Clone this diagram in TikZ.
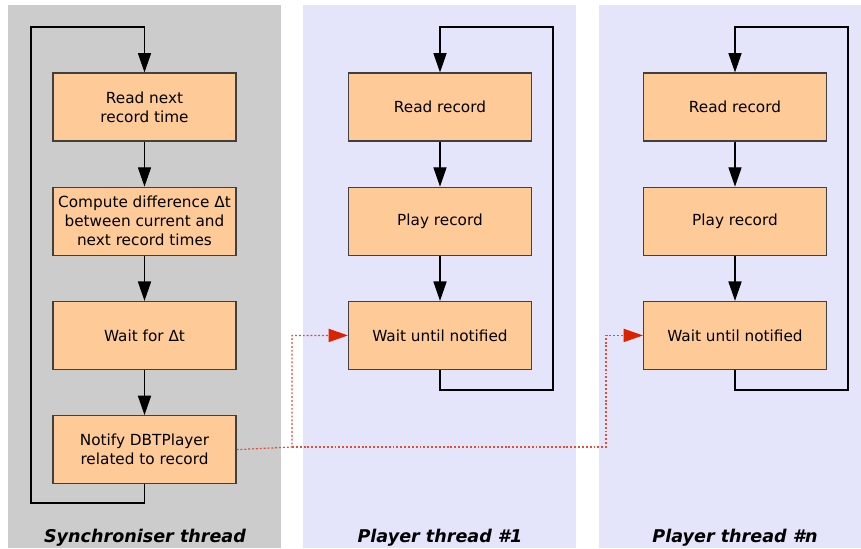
\documentclass[tikz,border=0pt]{standalone}
\usepackage{fontspec}
\setmainfont{DejaVu Sans}
\usetikzlibrary{positioning,arrows.meta}

\definecolor{syncgrey}{HTML}{CCCCCC}
\definecolor{playerblue}{HTML}{E4E4FB}
\definecolor{stepfill}{HTML}{FECA98}
\definecolor{notifyred}{HTML}{DD2200}

\begin{document}
\begin{tikzpicture}[x=0.02cm,y=-0.02cm,
    stepbox/.style={draw=black!75,line width=0.7pt,fill=stepfill,
      minimum width=3.66cm,minimum height=1.36cm,align=center,
      font=\fontsize{8.7}{10.8}\selectfont,inner sep=1pt},
    flow/.style={line width=0.6pt,-{Triangle[length=11pt,width=7.5pt]}},
    notify/.style={notifyred!80!white,line width=0.7pt,dash pattern=on 1.1pt off 1.1pt,
      -{Triangle[length=11pt,width=7.5pt,color=notifyred,fill=notifyred]}},
    threadname/.style={font=\fontsize{10}{12}\selectfont\bfseries\itshape},
    node distance=0.9cm]
    \useasboundingbox (0,0) rectangle (861,548);

    % thread panels
    \fill[syncgrey] (8,5) rectangle (281,548);
    \fill[playerblue] (303,5) rectangle (576,548);
    \fill[playerblue] (599,5) rectangle (861,548);

    % synchroniser thread
    \node[stepbox] (readtime) at (144.5,107) {Read next\\record time};
    \node[stepbox,below=of readtime] (diff) {Compute difference Δt\\between current and\\next record times};
    \node[stepbox,below=of diff] (wait) {Wait for Δt};
    \node[stepbox,below=of wait] (notifyp) {Notify DBTPlayer\\related to record};
    \coordinate (syncbot) at (31,503);
    \coordinate (synctop) at (31,27);

    \draw[flow] (readtime) -- (diff);
    \draw[flow] (diff) -- (wait);
    \draw[flow] (wait) -- (notifyp);
    \draw[flow] (notifyp.south) |- (syncbot) -- (synctop) -| (readtime.north);

    % player thread #1
    \node[stepbox] (readA) at (440,107) {Read record};
    \node[stepbox,below=of readA] (playA) {Play record};
    \node[stepbox,below=of playA] (waitA) {Wait until notified};
    \coordinate (loopA) at (553,390);

    \draw[flow] (readA) -- (playA);
    \draw[flow] (playA) -- (waitA);
    \draw[flow] (waitA.south) |- (loopA) |- (440,27) -- (readA.north);

    % player thread #n
    \node[stepbox] (readN) at (735,107) {Read record};
    \node[stepbox,below=of readN] (playN) {Play record};
    \node[stepbox,below=of playN] (waitN) {Wait until notified};
    \coordinate (loopN) at (848,390);

    \draw[flow] (readN) -- (playN);
    \draw[flow] (playN) -- (waitN);
    \draw[flow] (waitN.south) |- (loopN) |- (735,27) -- (readN.north);

    % notifications
    \coordinate (forkA) at (292,447);
    \coordinate (forkN) at (606,447);
    \draw[notify] (notifyp.east) -- (forkA) |- (waitA.west);
    \draw[notify] (forkA) -- (forkN) |- (waitN.west);

    % thread names
    \node[threadname] (syncname) at (145,538) {Synchroniser thread};
    \node[threadname] (playAname) at (440,538) {Player thread \#1};
    \node[threadname] (playNname) at (735,538) {Player thread \#n};
\end{tikzpicture}
\end{document}
